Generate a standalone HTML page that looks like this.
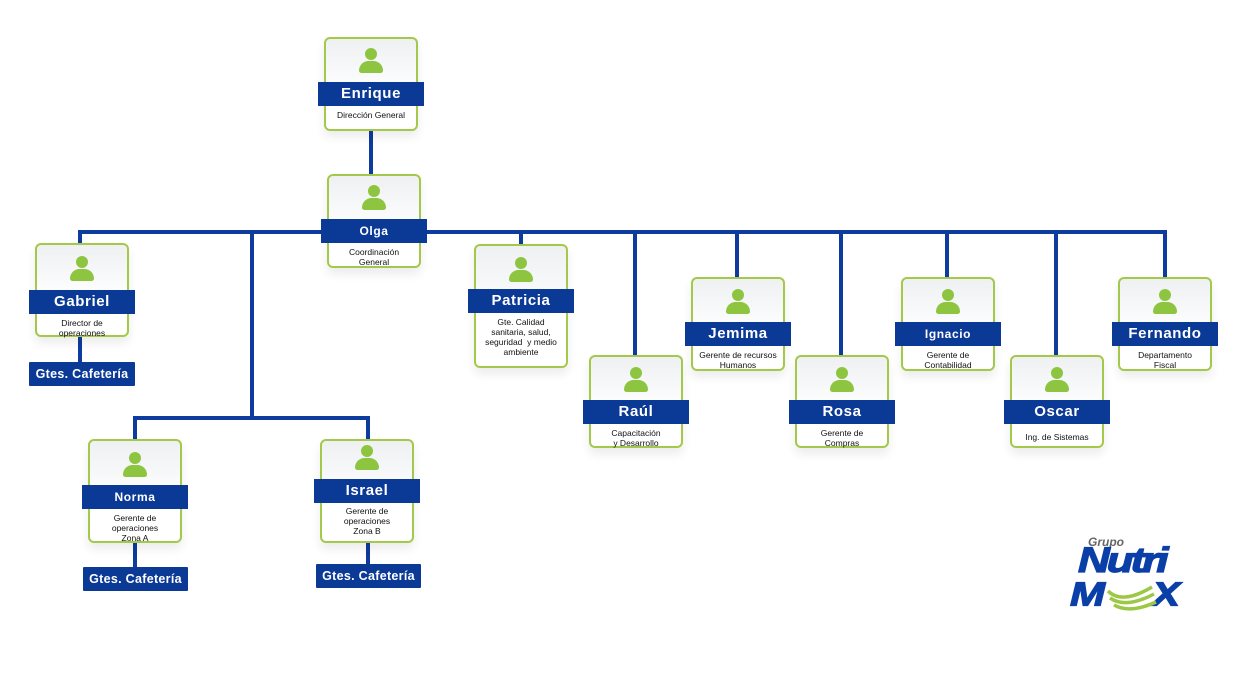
<!DOCTYPE html>
<html><head><meta charset="utf-8"><style>
body{margin:0;width:1245px;height:695px;background:#fff;position:relative;overflow:hidden;font-family:"Liberation Sans",sans-serif}
.l{position:absolute;background:#0d3b9e}
.n{position:absolute;width:94px}
.c{position:absolute;left:0;top:0;width:90px;border:2px solid #a4c94a;border-radius:6px;background:linear-gradient(#eef0f2,#fff 60%);box-shadow:0 6px 10px rgba(0,0,0,0.08)}
.b{position:absolute;left:-6px;width:106px;height:24px;background:#0b3996;color:#fff;font-weight:bold;font-size:15px;line-height:24px;text-align:center;letter-spacing:0.6px}
.b.s{font-size:12px}
.t{position:absolute;left:-6px;width:106px;text-align:center;font-size:8.5px;line-height:10px;color:#111}
.h{position:absolute;left:41px;width:12px;height:12px;border-radius:50%;background:#8dc541}
.sh{position:absolute;left:35px;width:24px;height:12px;border-radius:12px 12px 3px 3px;background:#8dc541}
.g{position:absolute;height:24px;background:#0b3996;color:#fff;font-weight:bold;font-size:12.5px;line-height:24px;text-align:center;border-radius:1px;letter-spacing:0.3px}
</style></head><body>
<div class="l" style="left:369px;top:131px;width:4px;height:44px"></div>
<div class="l" style="left:80px;top:230px;width:1087px;height:4px"></div>
<div class="l" style="left:78px;top:230px;width:4px;height:14px"></div>
<div class="l" style="left:78px;top:337px;width:4px;height:26px"></div>
<div class="l" style="left:250px;top:230px;width:4px;height:190px"></div>
<div class="l" style="left:133px;top:416px;width:237px;height:4px"></div>
<div class="l" style="left:133px;top:416px;width:4px;height:24px"></div>
<div class="l" style="left:366px;top:416px;width:4px;height:24px"></div>
<div class="l" style="left:133px;top:543px;width:4px;height:25px"></div>
<div class="l" style="left:366px;top:543px;width:4px;height:22px"></div>
<div class="l" style="left:519px;top:230px;width:4px;height:15px"></div>
<div class="l" style="left:633px;top:230px;width:4px;height:126px"></div>
<div class="l" style="left:735px;top:230px;width:4px;height:48px"></div>
<div class="l" style="left:839px;top:230px;width:4px;height:126px"></div>
<div class="l" style="left:945px;top:230px;width:4px;height:48px"></div>
<div class="l" style="left:1054px;top:230px;width:4px;height:126px"></div>
<div class="l" style="left:1163px;top:230px;width:4px;height:48px"></div>

<div class="n" style="left:324px;top:37px"><div class="c" style="height:90px"></div><div class="h" style="top:11px"></div><div class="sh" style="top:24px"></div><div class="b" style="top:45px">Enrique</div><div class="t" style="top:73px">Dirección General</div></div>
<div class="n" style="left:327px;top:174px"><div class="c" style="height:90px"></div><div class="h" style="top:11px"></div><div class="sh" style="top:24px"></div><div class="b s" style="top:45px">Olga</div><div class="t" style="top:73px">Coordinación<br>General</div></div>
<div class="n" style="left:35px;top:243px"><div class="c" style="height:90px"></div><div class="h" style="top:13px"></div><div class="sh" style="top:26px"></div><div class="b" style="top:47px">Gabriel</div><div class="t" style="top:75px">Director de<br>operaciones</div></div>
<div class="g" style="left:29px;top:362px;width:106px">Gtes. Cafetería</div>
<div class="n" style="left:88px;top:439px"><div class="c" style="height:100px"></div><div class="h" style="top:13px"></div><div class="sh" style="top:26px"></div><div class="b s" style="top:46px">Norma</div><div class="t" style="top:74px">Gerente de<br>operaciones<br>Zona A</div></div>
<div class="g" style="left:83px;top:567px;width:105px">Gtes. Cafetería</div>
<div class="n" style="left:320px;top:439px"><div class="c" style="height:100px"></div><div class="h" style="top:6px"></div><div class="sh" style="top:19px"></div><div class="b" style="top:40px">Israel</div><div class="t" style="top:67px">Gerente de<br>operaciones<br>Zona B</div></div>
<div class="g" style="left:316px;top:564px;width:105px">Gtes. Cafetería</div>
<div class="n" style="left:474px;top:244px"><div class="c" style="height:120px"></div><div class="h" style="top:13px"></div><div class="sh" style="top:26px"></div><div class="b" style="top:45px">Patricia</div><div class="t" style="top:73px">Gte. Calidad<br>sanitaria, salud,<br>seguridad &nbsp;y medio<br>ambiente</div></div>
<div class="n" style="left:589px;top:355px"><div class="c" style="height:89px"></div><div class="h" style="top:12px"></div><div class="sh" style="top:25px"></div><div class="b" style="top:45px">Raúl</div><div class="t" style="top:73px">Capacitación<br>y Desarrollo</div></div>
<div class="n" style="left:691px;top:277px"><div class="c" style="height:90px"></div><div class="h" style="top:12px"></div><div class="sh" style="top:25px"></div><div class="b" style="top:45px">Jemima</div><div class="t" style="top:73px">Gerente de recursos<br>Humanos</div></div>
<div class="n" style="left:795px;top:355px"><div class="c" style="height:89px"></div><div class="h" style="top:12px"></div><div class="sh" style="top:25px"></div><div class="b" style="top:45px">Rosa</div><div class="t" style="top:73px">Gerente de<br>Compras</div></div>
<div class="n" style="left:901px;top:277px"><div class="c" style="height:90px"></div><div class="h" style="top:12px"></div><div class="sh" style="top:25px"></div><div class="b s" style="top:45px">Ignacio</div><div class="t" style="top:73px">Gerente de<br>Contabilidad</div></div>
<div class="n" style="left:1010px;top:355px"><div class="c" style="height:89px"></div><div class="h" style="top:12px"></div><div class="sh" style="top:25px"></div><div class="b" style="top:45px">Oscar</div><div class="t" style="top:77px">Ing. de Sistemas</div></div>
<div class="n" style="left:1118px;top:277px"><div class="c" style="height:90px"></div><div class="h" style="top:12px"></div><div class="sh" style="top:25px"></div><div class="b" style="top:45px">Fernando</div><div class="t" style="top:73px">Departamento<br>Fiscal</div></div>

<div style="position:absolute;left:1088px;top:535px;font-size:12px;font-weight:bold;color:#666;font-style:italic">Grupo</div>
<div style="position:absolute;left:1078px;top:545px;font-size:44px;font-weight:900;font-style:italic;color:#0b3fa8;letter-spacing:-3px;line-height:40px;transform:scaleY(0.8);transform-origin:top;-webkit-text-stroke:1.5px #0b3fa8">Nutri</div>
<div style="position:absolute;left:1070px;top:580px;font-size:42px;font-weight:900;font-style:italic;color:#0b3fa8;line-height:36px;transform:scaleY(0.8);transform-origin:top;-webkit-text-stroke:1.5px #0b3fa8">M</div>
<div style="position:absolute;left:1152px;top:580px;font-size:42px;font-weight:900;font-style:italic;color:#0b3fa8;line-height:36px;transform:scaleY(0.8);transform-origin:top;-webkit-text-stroke:1.5px #0b3fa8">X</div>
<svg style="position:absolute;left:1102px;top:583px" width="60" height="32"><g fill="none" stroke="#9cc845" stroke-width="3.5"><path d="M6 8 Q20 22 50 4"/><path d="M8 15 Q24 26 52 11"/><path d="M12 22 Q28 31 54 19"/></g></svg>
</body></html>
